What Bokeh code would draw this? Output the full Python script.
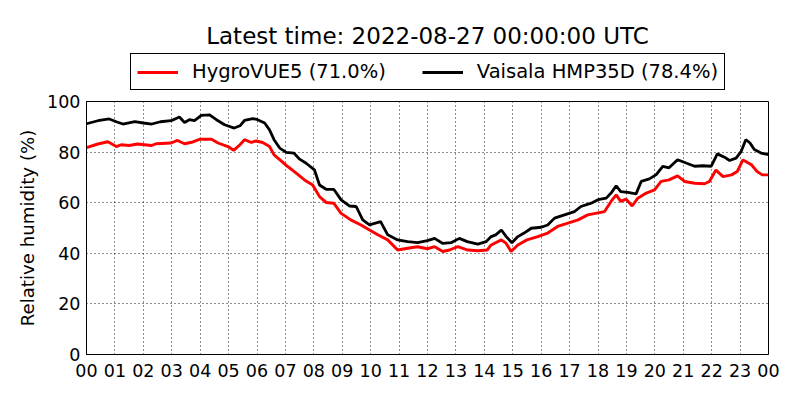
from bokeh.plotting import figure
from bokeh.layouts import column
from bokeh.models import (Range1d, FixedTicker, Legend, LegendItem, Label)
from bokeh.embed import file_html
from bokeh.resources import INLINE

# ---- data ----
title_text = "Latest time: 2022-08-27 00:00:00 UTC"
y_label = "Relative humidity (%)"
tick_hours = list(range(0, 25))
tick_labels = ["%02d" % (h % 24) for h in tick_hours]
y_ticks = [0, 20, 40, 60, 80, 100]

hmp_name = "Vaisala HMP35D (78.4%)"
hmp_hours = [0.0, 0.4, 0.8, 1.05, 1.28, 1.7, 2.0, 2.3, 2.6, 2.98, 3.27, 3.45, 3.62, 3.8,
             4.04, 4.33, 4.57, 4.86, 5.2, 5.4, 5.56, 5.85, 6.0, 6.27, 6.44, 6.6, 6.8,
             7.03, 7.3, 7.5, 7.73, 8.02, 8.2, 8.43, 8.7, 8.96, 9.25, 9.49, 9.72, 9.96,
             10.35, 10.6, 10.95, 11.3, 11.65, 12.0, 12.25, 12.54, 12.83, 13.12, 13.4,
             13.77, 14.06, 14.24, 14.4, 14.6, 14.77, 14.97, 15.18, 15.4, 15.65, 16.0,
             16.23, 16.47, 16.82, 17.17, 17.4, 17.76, 18.0, 18.29, 18.46, 18.64, 18.8,
             19.05, 19.34, 19.52, 19.81, 20.05, 20.28, 20.5, 20.8, 21.1, 21.4, 21.69,
             21.98, 22.2, 22.45, 22.63, 22.86, 23.04, 23.2, 23.35, 23.5, 23.74, 24.0]
hmp_values = [91.2, 92.4, 93.1, 92.0, 91.1, 92.0, 91.5, 91.1, 92.0, 92.4, 93.9, 91.7, 92.8, 92.4,
              94.5, 94.7, 92.8, 90.8, 89.5, 90.4, 92.5, 93.2, 92.9, 91.5, 88.8, 84.9, 81.6,
              79.9, 79.6, 77.2, 75.6, 73.0, 67.0, 65.3, 65.3, 61.1, 58.7, 58.5, 53.2, 51.2,
              52.5, 47.3, 45.3, 44.6, 44.2, 45.0, 45.9, 43.9, 44.2, 45.9, 44.6,
              43.6, 44.6, 46.6, 47.3, 49.2, 46.6, 44.2, 46.6, 48.0, 49.9, 50.3,
              51.2, 53.9, 55.2, 56.5, 58.5, 59.8, 61.2, 61.8, 63.8, 66.7, 64.4,
              64.1, 63.5, 68.4, 69.4, 71.1, 74.4, 73.8, 77.0, 75.7, 74.4, 74.6,
              74.4, 79.3, 78.0, 76.7, 77.6, 80.3, 84.9, 83.6, 81.0, 79.6, 79.0]

hv_name = "HygroVUE5 (71.0%)"
hv_hours = [0.0, 0.4, 0.75, 1.05, 1.22, 1.5, 1.8, 2.28, 2.45, 2.98, 3.2, 3.45, 3.74, 4.0,
            4.4, 4.63, 4.98, 5.18, 5.4, 5.56, 5.8, 5.97, 6.2, 6.44, 6.6, 6.87, 7.08,
            7.38, 7.67, 7.96, 8.2, 8.43, 8.7, 8.96, 9.3, 9.66, 9.96, 10.25, 10.6, 10.95,
            11.3, 11.65, 12.0, 12.25, 12.54, 12.77, 13.07, 13.42, 13.77, 14.1, 14.24,
            14.6, 14.77, 14.94, 15.18, 15.5, 15.88, 16.23, 16.58, 16.94, 17.3, 17.64,
            18.0, 18.23, 18.46, 18.64, 18.8, 18.99, 19.2, 19.4, 19.7, 19.99, 20.22,
            20.5, 20.8, 21.05, 21.4, 21.75, 21.92, 22.15, 22.4, 22.7, 22.9, 23.1, 23.2,
            23.4, 23.6, 23.78, 24.0]
hv_values = [81.8, 83.2, 84.1, 82.2, 82.9, 82.6, 83.2, 82.6, 83.3, 83.6, 84.6, 83.3, 84.0, 85.1,
             85.1, 83.6, 82.2, 80.7, 82.9, 84.9, 83.8, 84.4, 83.8, 82.2, 78.9, 76.3, 74.3,
             71.7, 69.0, 67.0, 62.4, 60.1, 59.8, 55.8, 53.2, 51.2, 49.2, 47.3, 45.3, 41.3,
             42.0, 42.6, 41.8, 42.6, 40.7, 41.3, 42.6, 41.3, 41.0, 41.3, 43.3,
             45.3, 43.9, 40.7, 43.3, 45.3, 46.6, 48.0, 50.6, 51.9, 53.2, 55.2,
             56.0, 56.5, 60.5, 63.1, 60.5, 61.4, 58.7, 61.8, 63.8, 65.1, 68.4,
             69.0, 70.6, 68.4, 67.7, 67.5, 68.4, 72.9, 70.3, 71.0, 72.3, 76.9, 76.3,
             75.0, 72.3, 71.0, 71.0]

FONT = "DejaVu Sans"
HV_COLOR = "#ff0000"
HMP_COLOR = "black"
HEAD_H = 91

# ---------------- header: title + legend ----------------
# same horizontal frame as the main plot (86..768), full height
head = figure(width=800, height=HEAD_H, output_backend="svg", toolbar_location=None,
              title=None, x_axis_type=None, y_axis_type=None,
              x_range=Range1d(0, 24), y_range=Range1d(200, 300),
              min_border_left=86, min_border_right=32,
              min_border_top=0, min_border_bottom=0)
head.outline_line_color = None
head.background_fill_color = "white"
head.border_fill_color = "white"
head.grid.visible = False
# legend swatch renderers: the series themselves, out of this header's view
s_hv = head.line(hv_hours, hv_values, line_color=HV_COLOR, line_width=3)
s_hmp = head.line(hmp_hours, hmp_values, line_color=HMP_COLOR, line_width=3)

legend = Legend(items=[LegendItem(label=hv_name, renderers=[s_hv]),
                       LegendItem(label=hmp_name, renderers=[s_hmp])],
                location=(44, 1), orientation="horizontal",
                label_text_font=FONT, label_text_font_size="19.5px",
                label_text_color="black",
                glyph_width=41, glyph_height=18, label_height=18,
                label_standoff=14, spacing=36, padding=6, margin=0,
                border_line_color="black", border_line_width=1, border_line_alpha=1,
                background_fill_color="white", background_fill_alpha=1)
head.add_layout(legend, "center")

head.add_layout(Label(x=341, y=HEAD_H - 35, x_units="screen", y_units="screen",
                      text=title_text, text_align="center", text_baseline="middle",
                      text_font=FONT, text_font_size="23px", text_color="black"))

# ---------------- main plot ----------------
p = figure(width=800, height=400 - HEAD_H, output_backend="svg", toolbar_location=None,
           title=None,
           x_range=Range1d(0, 24), y_range=Range1d(0, 100),
           min_border_left=86, min_border_right=32, min_border_top=101 - HEAD_H,
           min_border_bottom=46)
p.background_fill_color = "white"
p.border_fill_color = "white"
p.outline_line_color = "black"
p.outline_line_width = 1
p.outline_line_alpha = 1

p.line(hv_hours, hv_values, line_color=HV_COLOR, line_width=2.9)
p.line(hmp_hours, hmp_values, line_color=HMP_COLOR, line_width=2.8)

p.xaxis.ticker = FixedTicker(ticks=tick_hours)
p.xaxis.major_label_overrides = {h: lab for h, lab in zip(tick_hours, tick_labels)}
p.yaxis.ticker = FixedTicker(ticks=y_ticks)
for ax in (p.xaxis[0], p.yaxis[0]):
    ax.major_tick_in = 0
    ax.major_tick_out = 0
    ax.minor_tick_in = 0
    ax.minor_tick_out = 0
    ax.axis_line_color = "black"
    ax.major_label_text_font = FONT
    ax.major_label_text_font_size = "17.5px"
    ax.major_label_text_color = "black"
p.xaxis.major_label_standoff = 9
p.yaxis.major_label_standoff = 6
p.yaxis.axis_label = y_label
p.yaxis.axis_label_text_font = FONT
p.yaxis.axis_label_text_font_size = "18.2px"
p.yaxis.axis_label_text_font_style = "normal"
p.yaxis.axis_label_text_color = "black"
p.yaxis.axis_label_standoff = 6

for g in (p.xgrid[0], p.ygrid[0]):
    g.grid_line_color = "black"
    g.grid_line_dash = "1 3"
    g.grid_line_width = 1
    g.grid_line_alpha = 0.9
p.xgrid.ticker = FixedTicker(ticks=tick_hours)
p.ygrid.ticker = FixedTicker(ticks=y_ticks)

layout = column(head, p, spacing=0)
open("out.html", "w").write(file_html(layout, INLINE))
